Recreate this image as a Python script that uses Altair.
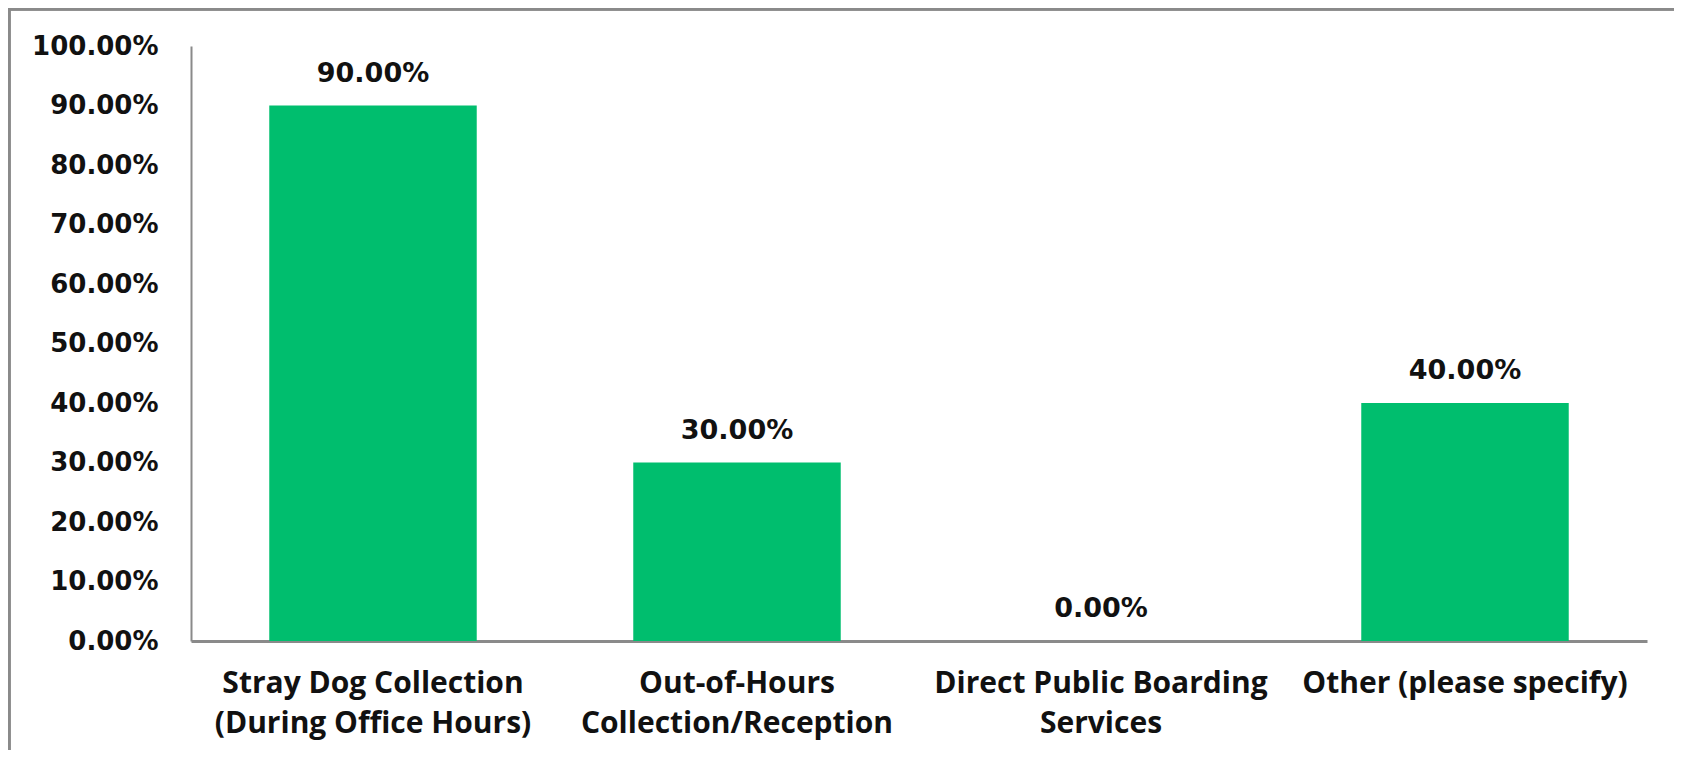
import altair as alt
import pandas as pd

categories = [
    "Stray Dog Collection\n(During Office Hours)",
    "Out-of-Hours\nCollection/Reception",
    "Direct Public Boarding\nServices",
    "Other (please specify)",
]
values = [0.90, 0.30, 0.00, 0.40]

df = pd.DataFrame({"category": categories, "value": values})

W, H = 1456, 595
PAD = {"left": 183, "top": 38, "right": 27, "bottom": 109}
FRAME = "#8a8a8a"
GREEN = "#00BE6E"

base = alt.Chart(df)

bars = base.mark_bar(color=GREEN).encode(
    x=alt.X(
        "category:N",
        sort=categories,
        scale=alt.Scale(paddingInner=0.43, paddingOuter=0.215),
        axis=alt.Axis(
            title=None,
            labelAngle=0,
            labelFont="Open Sans",
            labelFontWeight="bold",
            labelFontSize=30,
            labelColor="#111111",
            labelLineHeight=40,
            labelBaseline="top",
            labelPadding=27,
            labelLimit=0,
            ticks=False,
            domainColor=FRAME,
            domainWidth=3,
            labelExpr="split(datum.label, '\\n')",
        ),
    ),
    y=alt.Y(
        "value:Q",
        scale=alt.Scale(domain=[0, 1], nice=False),
        axis=alt.Axis(
            title=None,
            format=".2%",
            values=[i / 10 for i in range(11)],
            labelFont="DejaVu Sans",
            labelFontWeight="bold",
            labelFontSize=26,
            labelColor="#111111",
            labelPadding=33,
            ticks=False,
            grid=False,
            domainColor=FRAME,
            domainWidth=2,
        ),
    ),
)

labels = base.mark_text(
    dy=-32,
    baseline="middle",
    font="DejaVu Sans",
    fontWeight="bold",
    fontSize=27,
    color="#111111",
).encode(
    x=alt.X("category:N", sort=categories),
    y="value:Q",
    text=alt.Text("value:Q", format=".2%"),
)

frame_left = base.mark_rule(color=FRAME, strokeWidth=3).encode(
    x=alt.value(-PAD["left"] + 1),
    y=alt.value(-PAD["top"]),
    y2=alt.value(H + PAD["bottom"]),
)
frame_top = base.mark_rule(color=FRAME, strokeWidth=3).encode(
    x=alt.value(-PAD["left"]),
    x2=alt.value(W + PAD["right"]),
    y=alt.value(-PAD["top"] + 1),
)

chart = (
    alt.layer(bars, labels, frame_left, frame_top)
    .properties(width=W, height=H, padding=PAD, autosize="none", background="white")
    .configure_view(stroke=None)
)

chart.save("out.html", embed_options={"renderer": "svg", "actions": False})
